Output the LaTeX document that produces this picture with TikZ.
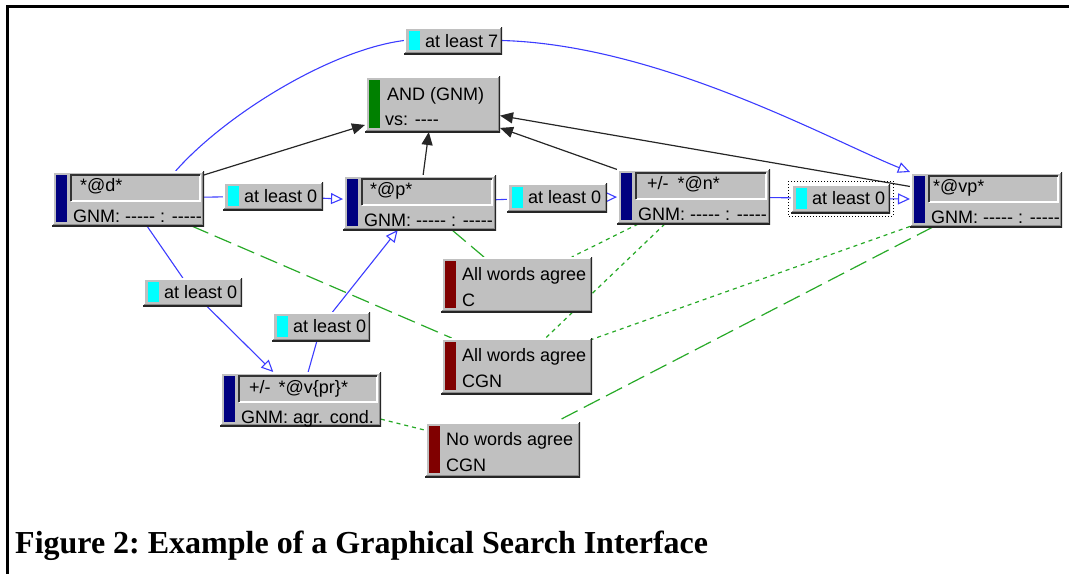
\documentclass[tikz,border=0pt]{standalone}
\usepackage{fontspec}
\newfontfamily\guifont{Liberation Sans}
\newfontfamily\capfont{Liberation Serif}
\usetikzlibrary{arrows.meta, calc}

\definecolor{face}{RGB}{192,192,192}
\definecolor{navybar}{RGB}{0,0,128}
\definecolor{greenbar}{RGB}{0,128,0}
\definecolor{redbar}{RGB}{128,0,0}
\definecolor{cyanbar}{RGB}{0,255,255}
\definecolor{linkblue}{RGB}{60,60,255}
\definecolor{agreegreen}{RGB}{40,170,40}

\pgfdeclarelayer{bg}
\pgfsetlayers{bg,main}

\newcommand{\boxedges}{%
    \draw[white, line width=3pt] (path picture bounding box.south west) |- (path picture bounding box.north east);
    \draw[black!85, line width=3pt] (path picture bounding box.south west) -| (path picture bounding box.north east);
    \draw[black!45, line width=1pt] ($(path picture bounding box.south west)+(1,-2)$) -| ($(path picture bounding box.north east)+(-2,1)$);
}
\newcommand{\boxbar}[1]{%
    \fill[#1] ($(path picture bounding box.north west)+(4,4)$) rectangle ($(path picture bounding box.south west)+(15,-4)$);
}
\newcommand{\countbar}{%
    \fill[cyanbar] ($(path picture bounding box.north west)+(5,4)$) rectangle ($(path picture bounding box.south west)+(16,-4)$);
}
\newcommand{\boxfield}{%
    \draw[white, line width=1.5pt] ($(path picture bounding box.north west)+(19,30)$) -| ($(path picture bounding box.north east)+(-4,4)$);
    \draw[black!80, line width=1.5pt] ($(path picture bounding box.north west)+(19,30)$) |- ($(path picture bounding box.north east)+(-4,4)$);
}

\tikzset{
    box/.style={fill=face, inner sep=0pt, outer sep=0pt, anchor=north west},
    wordbox/.style={box, minimum width=152pt, minimum height=55pt,
        path picture={\boxedges\boxbar{navybar}\boxfield}},
    andbox/.style={box, minimum width=135pt, minimum height=56pt,
        path picture={\boxedges\boxbar{greenbar}}},
    agreebox/.style={box, minimum width=151pt, minimum height=55pt,
        path picture={\boxedges\boxbar{redbar}}},
    countbox/.style={box, minimum width=99pt, minimum height=28pt,
        path picture={\boxedges\countbar}},
    txt/.style={anchor=base west, inner sep=0pt, font=\guifont\fontsize{18}{20}\selectfont},
    link/.style={linkblue, line width=1.1pt},
    opentip/.style={-{Triangle[open, length=12pt, width=11pt]}},
    andlink/.style={black!85, line width=1.2pt, -{Triangle[length=13pt, width=11pt]}},
    agreelong/.style={agreegreen, line width=1.2pt, dash pattern=on 18pt off 7pt},
    agreedot/.style={agreegreen, line width=1.2pt, dash pattern=on 4pt off 4pt},
}

\begin{document}
\begin{tikzpicture}[x=1pt, y=-1pt]
    \useasboundingbox (0,0) rectangle (1069,574);
    \draw[line width=2.6pt] (1069,6.5) -- (7.5,6.5) -- (7.5,574);

    % word nodes
    \node[wordbox] (d) at (52,171) {};
    \node[andbox] (and) at (365,76) {};
    \node[wordbox, minimum width=153pt] (p) at (343,175) {};
    \node[wordbox, minimum width=153pt] (n) at (617,169) {};
    \node[wordbox] (vp) at (910,172) {};
    \node[wordbox, minimum width=161pt, minimum height=54pt] (v) at (220,372) {};

    % agreement nodes
    \node[agreebox] (awac) at (441,257) {};
    \node[agreebox, minimum height=56pt] (awacgn) at (441,338) {};
    \node[agreebox, minimum width=155pt] (nwa) at (425,422) {};

    % distance nodes
    \node[countbox, minimum width=98pt, minimum height=27pt] (cnt7) at (404,27) {};
    \node[countbox, minimum width=100pt] (cntdp) at (223,182) {};
    \node[countbox, minimum width=100pt, minimum height=29pt] (cntpn) at (507,183) {};
    \node[countbox, minimum height=29pt] (cntnvp) at (791,184) {};
    \node[countbox] (cntdv) at (143,278) {};
    \node[countbox, minimum width=98pt, minimum height=29pt] (cntvp) at (272,312) {};
    \draw[black, line width=1pt, dotted] ($(cntnvp.north west)+(-3,-3)$) rectangle ($(cntnvp.south east)+(3,3)$);

    % texts
    \node[txt] (d1) at ($(d.north west)+(28,20)$) {*@d*};
    \node[txt] (d2) at ($(d.north west)+(21,51)$) {GNM: ----- : -----};
    \node[txt] (and1) at ($(and.north west)+(22,24)$) {AND (GNM)};
    \node[txt] (and2) at ($(and.north west)+(20,49)$) {vs: ----};
    \node[txt] (p1) at ($(p.north west)+(27,20)$) {*@p*};
    \node[txt] (p2) at ($(p.north west)+(21,51)$) {GNM: ----- : -----};
    \node[txt] (n1) at ($(n.north west)+(30,20)$) {+/-\hspace{9pt}*@n*};
    \node[txt] (n2) at ($(n.north west)+(21,51)$) {GNM: ----- : -----};
    \node[txt] (vp1) at ($(vp.north west)+(23,20)$) {*@vp*};
    \node[txt] (vp2) at ($(vp.north west)+(21,51)$) {GNM: ----- : -----};
    \node[txt] (v1) at ($(v.north west)+(29,21)$) {+/-\hspace{8pt}*@v\{pr\}*};
    \node[txt] (v2) at ($(v.north west)+(21,51)$) {GNM: agr. cond.};
    \node[txt] (awac1) at ($(awac.north west)+(21,23)$) {All words agree};
    \node[txt] (awac2) at ($(awac.north west)+(21,49)$) {C};
    \node[txt] (awacgn1) at ($(awacgn.north west)+(21,23)$) {All words agree};
    \node[txt] (awacgn2) at ($(awacgn.north west)+(21,49)$) {CGN};
    \node[txt] (nwa1) at ($(nwa.north west)+(21,23)$) {No words agree};
    \node[txt] (nwa2) at ($(nwa.north west)+(21,49)$) {CGN};
    \node[txt] (cnt7t) at ($(cnt7.north west)+(21,20)$) {at least 7};
    \node[txt] (cntdpt) at ($(cntdp.north west)+(21,20)$) {at least 0};
    \node[txt] (cntpnt) at ($(cntpn.north west)+(21,20)$) {at least 0};
    \node[txt] (cntnvpt) at ($(cntnvp.north west)+(21,20)$) {at least 0};
    \node[txt] (cntdvt) at ($(cntdv.north west)+(21,20)$) {at least 0};
    \node[txt] (cntvpt) at ($(cntvp.north west)+(21,20)$) {at least 0};

    \node[anchor=base west, inner sep=0pt, font=\capfont\bfseries\fontsize{32}{36}\selectfont\frenchspacing] (caption) at (15,553) {Figure 2: Example of a Graphical Search Interface};

    \begin{pgfonlayer}{bg}
        % distance links
        \draw[link] (d) -- (cntdp);
        \draw[link, opentip] (cntdp) -- (p);
        \draw[link] (p) -- (cntpn);
        \draw[link, opentip] (cntpn) -- (n);
        \draw[link] (n) -- (cntnvp);
        \draw[link, opentip] (cntnvp) -- (vp);
        \draw[link] (d) -- (cntdv);
        \draw[link, opentip] (cntdv) -- (v);
        \draw[link] (v) -- (cntvp);
        \draw[link, opentip] (cntvp) -- (p);
        \draw[link] (d.30) .. controls (225,115) and (330,50) .. (cnt7.west);
        \draw[link, opentip] (cnt7.east) .. controls (660,45) and (830,140) .. (vp.north west);

        % AND links
        \draw[andlink] (d) -- (and);
        \draw[andlink] (p) -- (and);
        \draw[andlink] (n) -- (and);
        \draw[andlink] (vp) -- (and);

        % agreement links
        \draw[agreelong] (d) -- (awacgn);
        \draw[agreelong] (p) -- (awac);
        \draw[agreedot] (n) -- (awac);
        \draw[agreedot] (n) -- (awacgn);
        \draw[agreedot] (vp) -- (awacgn);
        \draw[agreelong] (vp) -- (nwa);
        \draw[agreedot] (v) -- (nwa);
    \end{pgfonlayer}
\end{tikzpicture}
\end{document}
